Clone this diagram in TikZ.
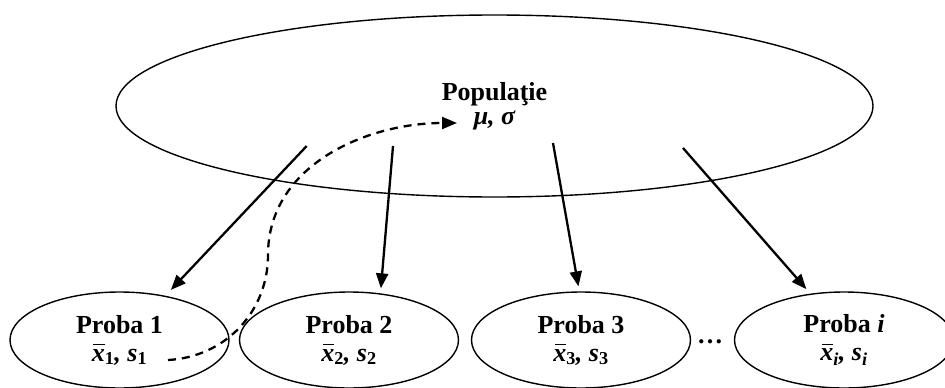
\documentclass[tikz,border=0pt]{standalone}
\usepackage{fontspec}
\setmainfont{Liberation Serif}
\usetikzlibrary{positioning, arrows.meta, shapes.geometric}

\newcommand{\xb}[1]{\makebox[0pt][l]{\hspace{0.06em}\rule[0.6em]{0.44em}{1.6pt}}x\textsubscript{#1}}

\begin{document}
\begin{tikzpicture}[
  x=1pt, y=-1pt,
  font=\fontsize{26}{30}\selectfont\bfseries,
  every node/.style={align=center},
  pop/.style={ellipse, draw, line width=1.4pt, inner sep=0pt,
              minimum width=757pt, minimum height=182pt},
  sample/.style={ellipse, draw, line width=1.4pt, inner sep=0pt,
                 minimum width=219pt, minimum height=96pt},
  arr/.style={-{Triangle[length=15pt, width=12pt]}, line width=2.3pt},
  darr/.style={arr, dash pattern=on 8pt off 6pt}
]
  \useasboundingbox (0,0) rectangle (945,388);

  \node[pop] (pop) at (494.5,106) {Populaţie\\[-6pt]{\itshape μ, σ}};

  \node[sample] (p1) at (119.5,340) {Proba 1\\[-2pt]{\itshape\xb{\upshape 1}, s\textsubscript{\upshape 1}}};
  \node[sample] (p2) at (349,340) {Proba 2\\[-2pt]{\itshape\xb{\upshape 2}, s\textsubscript{\upshape 2}}};
  \node[sample] (p3) at (581,340) {Proba 3\\[-2pt]{\itshape\xb{\upshape 3}, s\textsubscript{\upshape 3}}};
  \node[sample] (pi) at (844,340) {Proba {\itshape i}\\[-2pt]{\itshape\xb{i}, s\textsubscript{i}}};
  \node (dots) at (710,342) {\ldots};

  % tails of the sampling arrows, inside the population
  \coordinate (t1) at (306.7,146);
  \coordinate (t2) at (393,146);
  \coordinate (t3) at (553,143);
  \coordinate (t4) at (683,148);

  \draw[arr, shorten >=8pt] (t1) -- (p1.44);
  \draw[arr, shorten >=5pt] (t2) -- (p2.56);
  \draw[arr, shorten >=5pt] (t3) -- (p3.92);
  \draw[arr, shorten >=6pt] (t4) -- (pi.126);

  % estimate back to the parameters
  \coordinate (est) at (168,360);
  \coordinate (par) at (457,123);
  \draw[darr] (est) .. controls (225,357) and (268,312) .. (268,255)
    .. controls (268,165) and (367,123) .. (par);
\end{tikzpicture}
\end{document}
